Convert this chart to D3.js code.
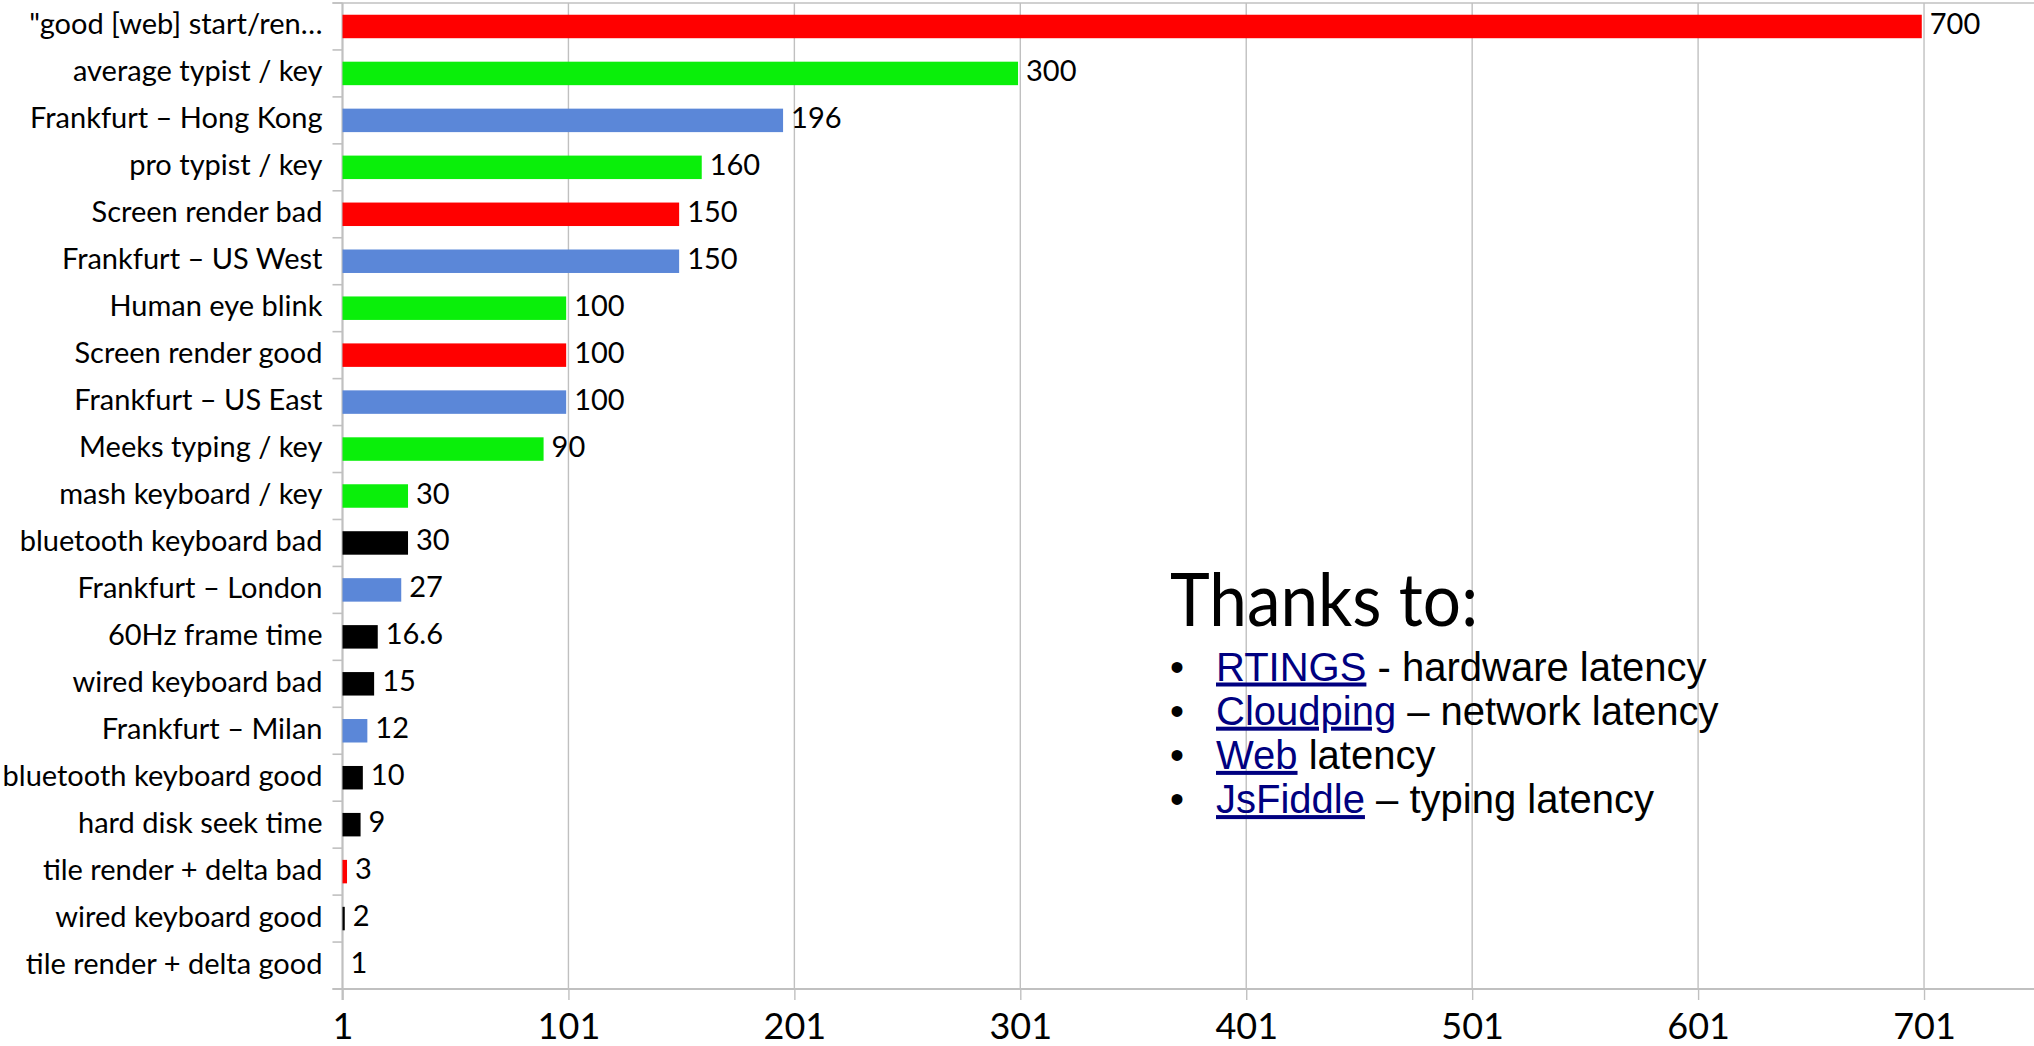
<!DOCTYPE html>
<html>
<head>
<meta charset="utf-8">
<script src="https://cdn.jsdelivr.net/npm/d3@7"></script>
<style>
  html, body { margin: 0; padding: 0; background: #fff; }
  svg { display: block; }
</style>
</head>
<body>
<svg id="chart" width="2034" height="1046"></svg>
<script>
// Latency comparison, milliseconds
const categories = [
  "\"good [web] start/ren…",
  "average typist / key",
  "Frankfurt – Hong Kong",
  "pro typist / key",
  "Screen render bad",
  "Frankfurt – US West",
  "Human eye blink",
  "Screen render good",
  "Frankfurt – US East",
  "Meeks typing / key",
  "mash keyboard / key",
  "bluetooth keyboard bad",
  "Frankfurt – London",
  "60Hz frame time",
  "wired keyboard bad",
  "Frankfurt – Milan",
  "bluetooth keyboard good",
  "hard disk seek time",
  "tile render + delta bad",
  "wired keyboard good",
  "tile render + delta good"
];
const values = [700, 300, 196, 160, 150, 150, 100, 100, 100, 90, 30, 30, 27, 16.6, 15, 12, 10, 9, 3, 2, 1];
// group of each measurement: render, human, network, hardware
const groups = ["render", "human", "network", "human", "render", "network", "human", "render", "network", "human",
  "human", "hardware", "network", "hardware", "hardware", "network", "hardware", "hardware", "render", "hardware", "render"];
const groupColors = { render: "#ff0000", human: "#0aef0a", network: "#5b87d8", hardware: "#000000" };
const tickValues = [1, 101, 201, 301, 401, 501, 601, 701];
const axisMin = 1, axisMax = 751;

const credits = [
  { link: "RTINGS", rest: " - hardware latency" },
  { link: "Cloudping", rest: " – network latency" },
  { link: "Web", rest: " latency" },
  { link: "JsFiddle", rest: " – typing latency" }
];

const svg = d3.select("#chart");
const plotLeft = 342.5, plotRight = 2037, plotTop = 3, plotBottom = 989;
const gridColor = "#c0c0c0";

const x = d3.scaleLinear().domain([axisMin, axisMax]).range([plotLeft, plotRight]);
const y = d3.scaleBand().domain(categories).range([plotTop, plotBottom]).paddingInner(0.5).paddingOuter(0.25);
const step = y.step();

// vertical gridlines
svg.append("g").selectAll("line").data(tickValues).join("line")
  .attr("x1", d => x(d)).attr("x2", d => x(d))
  .attr("y1", plotTop).attr("y2", plotBottom)
  .attr("stroke", gridColor).attr("stroke-width", 1.4);

// top frame line
svg.append("line").attr("x1", plotLeft - 10).attr("x2", plotRight).attr("y1", plotTop).attr("y2", plotTop)
  .attr("stroke", gridColor).attr("stroke-width", 1.6);

// bottom axis
const xAxis = d3.axisBottom(x).tickValues(tickValues).tickSize(11).tickPadding(8).tickFormat(d3.format("d"));
const gx = svg.append("g").attr("transform", `translate(0,${plotBottom})`).call(xAxis);
gx.select(".domain").attr("stroke", gridColor).attr("stroke-width", 2).attr("d", `M${plotLeft - 10},0H${plotRight}`);
gx.selectAll(".tick line").attr("stroke", gridColor).attr("stroke-width", 1.4);
gx.selectAll(".tick text").attr("font-family", "Lato").attr("font-size", 36).attr("fill", "#000")
  .attr("dy", null).attr("y", 50);

// left axis line and category separators
svg.append("line").attr("x1", plotLeft).attr("x2", plotLeft).attr("y1", plotTop).attr("y2", plotBottom + 11)
  .attr("stroke", gridColor).attr("stroke-width", 2);
const seps = d3.range(categories.length + 1).map(i => plotTop + i * step);
svg.append("g").selectAll("line").data(seps).join("line")
  .attr("x1", plotLeft - 10).attr("x2", plotLeft).attr("y1", d => d).attr("y2", d => d)
  .attr("stroke", gridColor).attr("stroke-width", 1.6);

// category labels
svg.append("g").selectAll("text").data(categories).join("text")
  .attr("x", plotLeft - 20)
  .attr("y", d => y(d) + y.bandwidth() / 2 + 8)
  .attr("text-anchor", "end")
  .attr("font-family", "Lato").attr("font-size", 29).attr("fill", "#000")
  .text(d => d);

// bars
const rows = categories.map((c, i) => ({ c, v: values[i], g: groups[i] }));
svg.append("g").selectAll("rect").data(rows).join("rect")
  .attr("x", x(axisMin))
  .attr("y", d => y(d.c))
  .attr("width", d => x(d.v) - x(axisMin))
  .attr("height", y.bandwidth())
  .attr("fill", d => groupColors[d.g]);

// value labels
svg.append("g").selectAll("text").data(rows).join("text")
  .attr("x", d => x(d.v) + 8)
  .attr("y", d => y(d.c) + y.bandwidth() / 2 + 7.5)
  .attr("font-family", "Lato").attr("font-size", 29).attr("fill", "#000")
  .text(d => d.v);

// credits block
const notes = svg.append("g");
notes.append("text").attr("x", 1170).attr("y", 626)
  .attr("font-family", "Lato").attr("font-size", 73).attr("fill", "#000")
  .attr("textLength", 308).attr("lengthAdjust", "spacingAndGlyphs")
  .text("Thanks to:");
credits.forEach((c, i) => {
  const by = 680.5 + i * 44.2;
  notes.append("text").attr("x", 1177).attr("y", by).attr("text-anchor", "middle")
    .attr("font-family", "Liberation Sans").attr("font-size", 40).attr("fill", "#000").text("•");
  const t = notes.append("text").attr("x", 1216).attr("y", by)
    .attr("font-family", "Liberation Sans").attr("font-size", 40).attr("fill", "#000");
  t.append("tspan").attr("fill", "#000080").style("text-decoration", "underline").text(c.link);
  t.append("tspan").text(c.rest);
});
</script>
</body>
</html>
